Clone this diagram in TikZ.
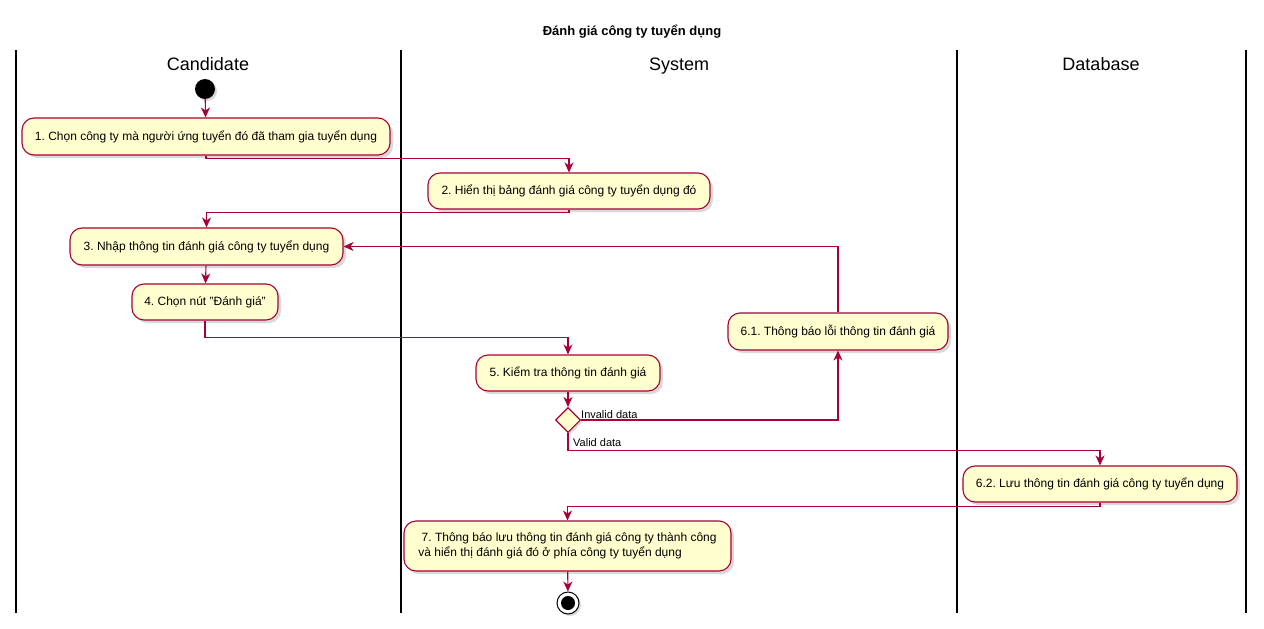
\documentclass[tikz,border=0pt]{standalone}
\usepackage{fontspec}
\setmainfont{Liberation Sans}
\frenchspacing
\usetikzlibrary{arrows.meta,shapes.geometric,shadows}
\definecolor{pu}{HTML}{A80036}
\definecolor{puf}{HTML}{FEFECE}
\tikzset{
  act/.style={draw=pu, fill=puf, rounded corners=12pt, line width=1.1pt, inner sep=0pt,
    font=\fontsize{12}{15}\selectfont, drop shadow={opacity=0.3, shadow xshift=3pt, shadow yshift=-3pt}},
  flow/.style={draw=pu, line width=1.1pt, -{Stealth[length=10pt,width=9pt,inset=3pt]}},
  lane/.style={line width=2pt, black},
  lanehead/.style={font=\fontsize{18}{20}\selectfont, anchor=base},
  guard/.style={font=\fontsize{11}{13}\selectfont, inner sep=0pt},
}
\begin{document}
\begin{tikzpicture}[x=1pt,y=-1pt]
\useasboundingbox (0,0) rectangle (1264,629);
\node[font=\bfseries\fontsize{13}{15}\selectfont, anchor=base] (title) at (632,35) {Đánh giá công ty tuyển dụng};
% lanes
\draw[lane] (16,50) -- (16,613);
\draw[lane] (401,50) -- (401,613);
\draw[lane] (957,50) -- (957,613);
\draw[lane] (1246,50) -- (1246,613);
\node[lanehead] (h1) at (208,70) {Candidate};
\node[lanehead] (h2) at (679,70) {System};
\node[lanehead] (h3) at (1101,70) {Database};
% start
\node[circle, fill=black, minimum size=20pt, inner sep=0pt, drop shadow={opacity=0.3, shadow xshift=2pt, shadow yshift=-2pt}] (start) at (205,89) {};
% actions
\node[act, minimum width=368pt, minimum height=37pt] (b1) at (206,136.5) {1. Chọn công ty mà người ứng tuyển đó đã tham gia tuyển dụng};
\node[act, minimum width=282pt, minimum height=36pt] (b2) at (569,191) {2. Hiển thị bảng đánh giá công ty tuyển dụng đó};
\node[act, minimum width=273pt, minimum height=37pt] (b3) at (206.5,246.5) {3. Nhập thông tin đánh giá công ty tuyển dụng};
\node[act, minimum width=146pt, minimum height=36pt] (b4) at (205,302) {4. Chọn nút "Đánh giá"};
\node[act, minimum width=184pt, minimum height=36pt] (b5) at (568,373) {5. Kiểm tra thông tin đánh giá};
\node[draw=pu, fill=puf, line width=1.1pt, diamond, aspect=1, minimum size=25pt, inner sep=0pt, drop shadow={opacity=0.3, shadow xshift=2pt, shadow yshift=-2pt}] (d) at (568,420) {};
\node[act, minimum width=220pt, minimum height=37pt] (b61) at (838,331.5) {6.1. Thông báo lỗi thông tin đánh giá};
\node[act, minimum width=274pt, minimum height=36pt] (b62) at (1100,484) {6.2. Lưu thông tin đánh giá công ty tuyển dụng};
\node[act, minimum width=327pt, minimum height=50pt, align=left] (b7) at (567.5,546) {\ 7. Thông báo lưu thông tin đánh giá công ty thành công\\và hiển thị đánh giá đó ở phía công ty tuyển dụng\hspace{45pt}};
% end
\node[circle, draw=black, fill=white, line width=1pt, minimum size=22pt, inner sep=0pt, drop shadow={opacity=0.3, shadow xshift=2pt, shadow yshift=-2pt}] (end) at (568,603) {};
\fill[black] (end.center) circle (7pt);
% flows
\draw[flow] (start) -- (b1);
\draw[flow] (b1.south) -- ++(0,3) -| (b2.north);
\draw[flow] (b2.south) -- ++(0,3) -| (b3.north);
\draw[flow] (b3) -- (b4);
\draw[flow] (b4.south) -- ++(0,17) -| (b5.north);
\draw[flow] (b5) -- (d);
\draw[flow] (d.east) -| (b61.south);
\draw[flow] (b61.north) |- (b3.east);
\draw[flow] (d.south) -- ++(0,17.5) -| (b62.north);
\draw[flow] (b62.south) -- ++(0,4) -| (b7.north);
\draw[flow] (b7) -- (end);
% guards
\node[guard, anchor=south west] (g1) at (581,419) {Invalid data};
\node[guard, anchor=south west] (g2) at (573,447) {Valid data};
\end{tikzpicture}
\end{document}
